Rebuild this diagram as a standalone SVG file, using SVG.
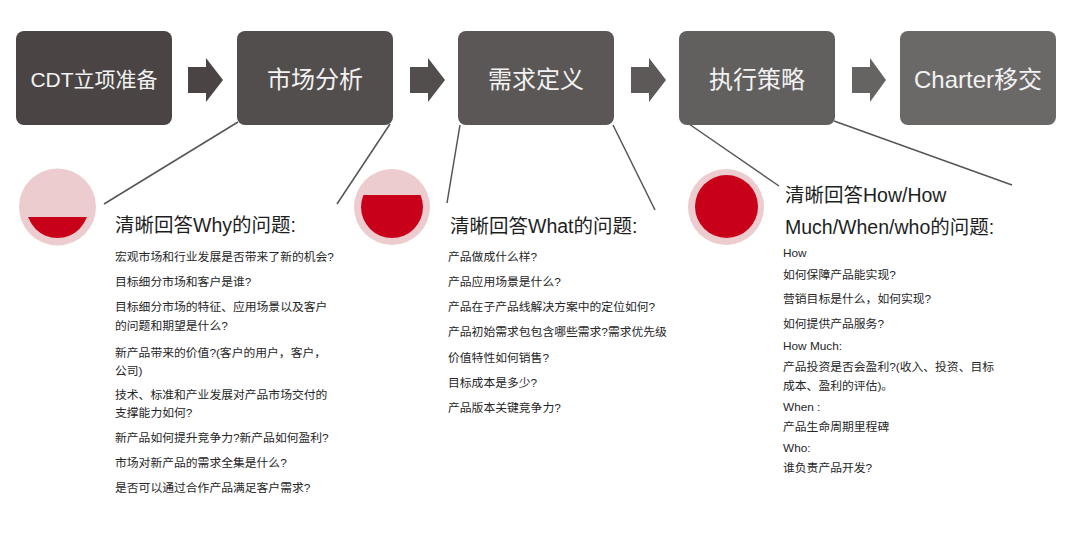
<svg xmlns="http://www.w3.org/2000/svg" width="1080" height="540" viewBox="0 0 1080 540">
  <defs>
    <style>
      .box text { font-family: "Liberation Sans", "Noto Sans CJK SC", sans-serif; fill: #f2f2f2; text-anchor: middle; }
      .conn line { stroke: #555555; stroke-width: 1.5; }
      .head { font-family: "Liberation Sans", "Noto Sans CJK SC", sans-serif; font-size: 19.5px; fill: #1e1e1e; }
      .body { font-family: "Liberation Sans", "Noto Sans CJK SC", sans-serif; font-size: 11.8px; fill: #262626; }
      .outer { fill: #ecccce; }
      .red { fill: #c8001a; }
    </style>
    <clipPath id="c1"><rect x="0" y="217" width="200" height="40"/></clipPath>
    <clipPath id="c2"><rect x="300" y="195" width="200" height="60"/></clipPath>
  </defs>
  <rect width="1080" height="540" fill="#ffffff"/>

  <g id="connectors" class="conn">
    <line x1="238" y1="122" x2="104" y2="204"/>
    <line x1="390" y1="124" x2="337" y2="204"/>
    <line x1="460" y1="125" x2="447" y2="203"/>
    <line x1="613" y1="125" x2="655" y2="210"/>
    <line x1="689" y1="124" x2="779" y2="186"/>
    <line x1="834" y1="121" x2="1012" y2="185"/>
    <path d="M188,67 H206 V58 L223,80 L206,102 V93 H188 Z" fill="#4a4544" stroke="none"/>
    <path d="M410,67 H428 V58 L445,80 L428,102 V93 H410 Z" fill="#524e4d" stroke="none"/>
    <path d="M631,67 H649 V58 L666,80 L649,102 V93 H631 Z" fill="#5c5958" stroke="none"/>
    <path d="M852,67 H870 V58 L886,80 L870,102 V93 H852 Z" fill="#666463" stroke="none"/>
  </g>

  <g id="n1" class="box">
    <rect x="16" y="31" width="156" height="94" rx="8" fill="#4a4544"/>
    <text x="94" y="87" font-size="21">CDT立项准备</text>
  </g>
  <g id="n2" class="box">
    <rect x="237" y="31" width="156" height="94" rx="8" fill="#524e4d"/>
    <text x="315" y="88" font-size="24">市场分析</text>
  </g>
  <g id="n3" class="box">
    <rect x="458" y="31" width="156" height="94" rx="8" fill="#5a5756"/>
    <text x="536" y="88" font-size="24">需求定义</text>
  </g>
  <g id="n4" class="box">
    <rect x="679" y="31" width="156" height="94" rx="8" fill="#62605f"/>
    <text x="757" y="88" font-size="24">执行策略</text>
  </g>
  <g id="n5" class="box">
    <rect x="900" y="31" width="156" height="94" rx="8" fill="#6b6968"/>
    <text x="978" y="88" font-size="24">Charter移交</text>
  </g>

  <g id="why">
    <circle class="outer" cx="57.5" cy="207" r="38.5"/>
    <circle class="red" cx="57.5" cy="207" r="31" clip-path="url(#c1)"/>
    <text class="head" x="115" y="232">清晰回答Why的问题:</text>
    <text class="body" x="115" y="261">宏观市场和行业发展是否带来了新的机会?</text>
    <text class="body" x="115" y="286">目标细分市场和客户是谁?</text>
    <text class="body" x="115" y="311">目标细分市场的特征、应用场景以及客户</text>
    <text class="body" x="115" y="330">的问题和期望是什么?</text>
    <text class="body" x="115" y="357">新产品带来的价值?(客户的用户，客户，</text>
    <text class="body" x="115" y="375">公司)</text>
    <text class="body" x="115" y="399">技术、标准和产业发展对产品市场交付的</text>
    <text class="body" x="115" y="417">支撑能力如何?</text>
    <text class="body" x="115" y="442">新产品如何提升竞争力?新产品如何盈利?</text>
    <text class="body" x="115" y="467">市场对新产品的需求全集是什么?</text>
    <text class="body" x="115" y="492">是否可以通过合作产品满足客户需求?</text>
  </g>

  <g id="what">
    <circle class="outer" cx="392" cy="207" r="38"/>
    <circle class="red" cx="392" cy="207" r="31" clip-path="url(#c2)"/>
    <text class="head" x="450" y="233">清晰回答What的问题:</text>
    <text class="body" x="448" y="261">产品做成什么样?</text>
    <text class="body" x="448" y="286">产品应用场景是什么?</text>
    <text class="body" x="448" y="311">产品在子产品线解决方案中的定位如何?</text>
    <text class="body" x="448" y="336">产品初始需求包包含哪些需求?需求优先级</text>
    <text class="body" x="448" y="362">价值特性如何销售?</text>
    <text class="body" x="448" y="387">目标成本是多少?</text>
    <text class="body" x="448" y="412">产品版本关键竞争力?</text>
  </g>

  <g id="how">
    <circle class="outer" cx="726" cy="207" r="38"/>
    <circle class="red" cx="726.5" cy="206.5" r="31.5"/>
    <text class="head" x="785" y="202">清晰回答How/How</text>
    <text class="head" x="785" y="234">Much/When/who的问题:</text>
    <text class="body" x="783" y="257" font-size="11">How</text>
    <text class="body" x="783" y="279">如何保障产品能实现?</text>
    <text class="body" x="783" y="303">营销目标是什么，如何实现?</text>
    <text class="body" x="783" y="328">如何提供产品服务?</text>
    <text class="body" x="783" y="350" font-size="11">How Much:</text>
    <text class="body" x="783" y="371">产品投资是否会盈利?(收入、投资、目标</text>
    <text class="body" x="783" y="390">成本、盈利的评估)。</text>
    <text class="body" x="783" y="411" font-size="11">When :</text>
    <text class="body" x="783" y="431">产品生命周期里程碑</text>
    <text class="body" x="783" y="452" font-size="11">Who:</text>
    <text class="body" x="783" y="472">谁负责产品开发?</text>
  </g>
</svg>
